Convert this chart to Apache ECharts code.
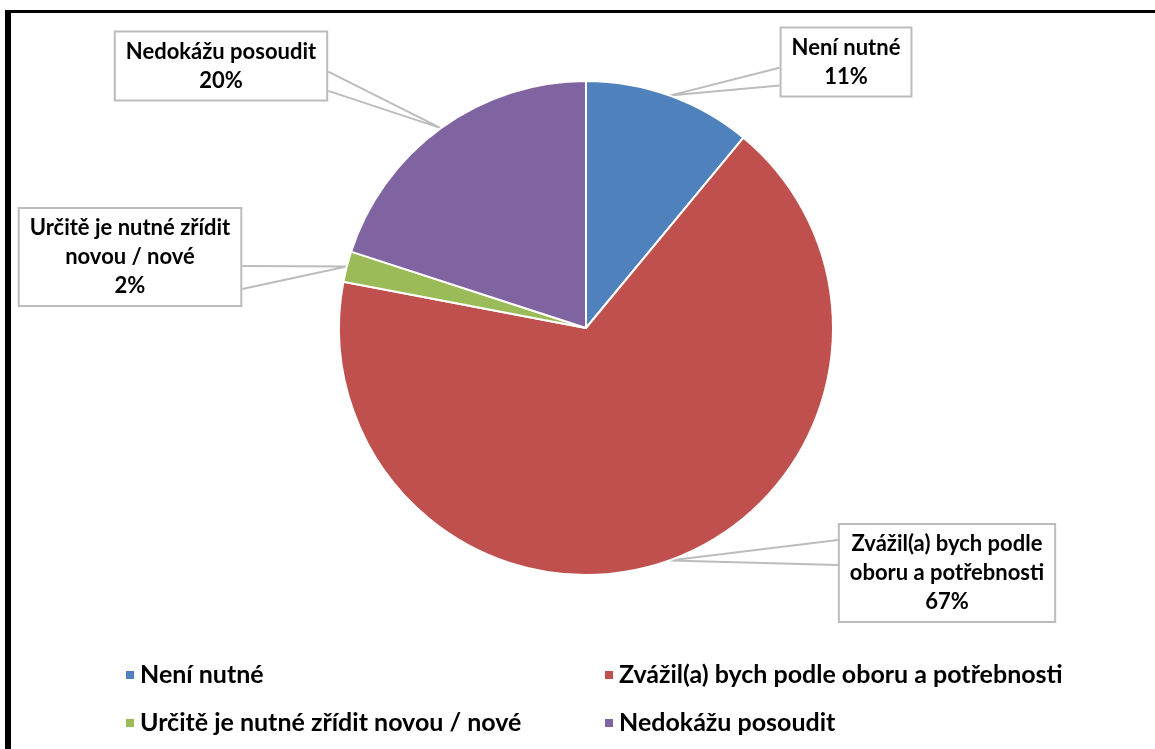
<!DOCTYPE html>
<html>
<head>
<meta charset="utf-8">
<script src="https://cdn.jsdelivr.net/npm/echarts@6/dist/echarts.min.js"></script>
<style>
  html, body { margin: 0; padding: 0; background: #fff; }
  #chart { width: 1155px; height: 749px; }
  #frame { position: absolute; left: 5px; top: 10px; width: 1200px; height: 800px;
           border-top: 3px solid #000; border-left: 6px solid #000; pointer-events: none; }
</style>
</head>
<body>
<div id="chart"></div>
<div id="frame"></div>
<script>
// ---- data ----
const categories = ['Není nutné', 'Zvážil(a) bych podle oboru a potřebnosti', 'Určitě je nutné zřídit novou / nové', 'Nedokážu posoudit'];
const labelTexts = ['Není nutné', 'Zvážil(a) bych podle\noboru a potřebnosti', 'Určitě je nutné zřídit\nnovou / nové', 'Nedokážu posoudit'];
const percentValues = [11, 67, 2, 20];
const sliceColors = ['#4F81BD', '#C0504D', '#9BBB59', '#8064A2'];

// ---- label box layout (style only) ----
const labelCenters = [[846, 62], [947, 573], [130, 257], [221, 66]];
const wedgeFractions = [[0.58, 0.83], [0.17, 0.42], [0.59, 0.82], [0.58, 0.85]];

const FONT = 'Lato, "Open Sans", sans-serif';

const chart = echarts.init(document.getElementById('chart'), null, { renderer: 'canvas' });

const legendText = { fontFamily: FONT, fontWeight: 'bold', fontSize: 25, color: '#000', lineHeight: 26, padding: [0, 0, 0, 0] };

const option = {
  backgroundColor: '#ffffff',
  animation: false,
  color: sliceColors,
  legend: [
    {
      data: [categories[0], categories[2]],
      orient: 'vertical', left: 119, top: 657,
      icon: 'rect', itemWidth: 10, itemHeight: 10, itemGap: 22,
      textStyle: legendText
    },
    {
      data: [categories[1], categories[3]],
      orient: 'vertical', left: 598, top: 657,
      icon: 'rect', itemWidth: 10, itemHeight: 10, itemGap: 22,
      textStyle: legendText
    }
  ],
  series: [{
    type: 'pie',
    center: [586, 328],
    radius: 247,
    startAngle: 90,
    clockwise: true,
    itemStyle: { borderColor: '#ffffff', borderWidth: 2 },
    emphasis: { disabled: true },
    data: categories.map((n, i) => ({ name: n, value: percentValues[i] })),
    label: {
      show: true,
      position: 'outside',
      formatter: (p) => labelTexts[p.dataIndex] + '\n' + p.value + '%',
      fontFamily: FONT, fontWeight: 'bold', fontSize: 22, lineHeight: 29,
      color: '#000', align: 'center',
      backgroundColor: '#ffffff', borderColor: '#bcbcbc', borderWidth: 2,
      padding: [5, 10, 4, 10]
    },
    labelLine: { show: true, length: 20, length2: 20, lineStyle: { color: '#bcbcbc', width: 2 } },
    labelLayout: function (params) {
      const i = params.dataIndex;
      const c = labelCenters[i];
      const w = params.labelRect.width, h = params.labelRect.height;
      const tip = params.labelLinePoints ? params.labelLinePoints[0] : [c[0], c[1]];
      const left = c[0] - w / 2, right = c[0] + w / 2, top = c[1] - h / 2;
      const sx = tip[0] < c[0] ? left : right;
      const f = wedgeFractions[i];
      return {
        x: c[0], y: c[1], align: 'center', verticalAlign: 'middle',
        labelLinePoints: [[sx, top + h * f[0]], tip, [sx, top + h * f[1]]]
      };
    }
  }]
};
chart.setOption(option);
</script>
</body>
</html>
